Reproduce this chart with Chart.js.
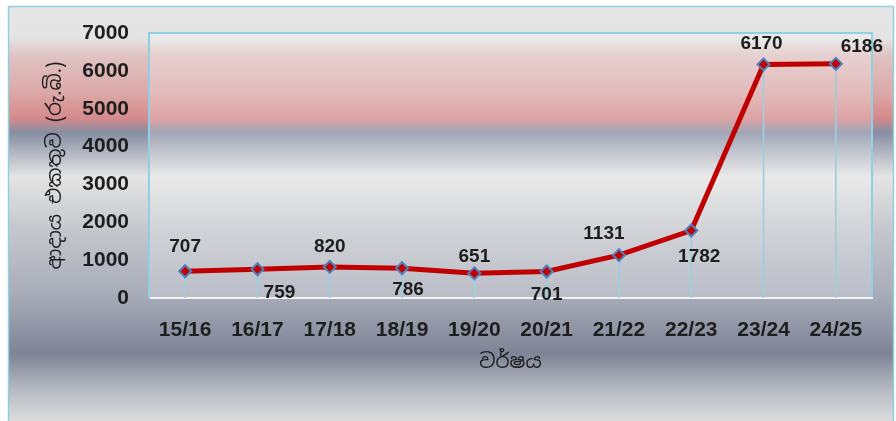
<!DOCTYPE html>
<html>
<head>
<meta charset="utf-8">
<script src="https://cdn.jsdelivr.net/npm/chart.js@4"></script>
<style>
  html, body { margin: 0; padding: 0; background: #fff; }
  #wrap { width: 896px; height: 421px; }
</style>
</head>
<body>
<div id="wrap"><canvas id="chart" width="896" height="421"></canvas></div>
<script>
var years = ['15/16', '16/17', '17/18', '18/19', '19/20', '20/21', '21/22', '22/23', '23/24', '24/25'];
var revenue = [707, 759, 820, 786, 651, 701, 1131, 1782, 6170, 6186];
var yTitle = 'ආදාය එකතුව (රු.බි.)';
var xTitle = 'වර්ෂය';

// where each value label sits relative to its point (dx, dy)
var labelOffsets = [[0, -24], [22, 23], [0, -20], [6, 22], [0, -17], [0, 23], [-15, -21], [8, 26], [-2, -21], [26, -17]];

var textColor = '#1e1e1e';
var fontFamily = '"Liberation Sans", Arial, "Noto Sans", sans-serif';

var backdrop = {
	id: 'backdrop',
	beforeDraw: function (chart) {
		var ctx = chart.ctx;
		var w = chart.width, h = chart.height;
		ctx.save();
		ctx.fillStyle = '#ffffff';
		ctx.fillRect(0, 0, w, h);
		var g = ctx.createLinearGradient(0, 0, 0, h);
		g.addColorStop(0.00, '#e6e6e6');
		g.addColorStop(0.09, '#e4e4e4');
		g.addColorStop(0.13, '#e0c4c4');
		g.addColorStop(0.22, '#dca8a8');
		g.addColorStop(0.28, '#d68a8a');
		g.addColorStop(0.30, '#aa8c98');
		g.addColorStop(0.315, '#868ea2');
		g.addColorStop(0.36, '#b0b4c0');
		g.addColorStop(0.42, '#e4e4e4');
		g.addColorStop(0.55, '#c4c6cc');
		g.addColorStop(0.70, '#a8acb8');
		g.addColorStop(0.84, '#7e8496');
		g.addColorStop(0.93, '#b8bcc4');
		g.addColorStop(1.00, '#dcdcdc');
		ctx.fillStyle = g;
		ctx.fillRect(8, 6, w - 10, h - 6);
		ctx.strokeStyle = '#8fd0e2';
		ctx.lineWidth = 1.5;
		ctx.strokeRect(8.5, 6.5, w - 11, h);
		var a = chart.chartArea;
		ctx.fillStyle = 'rgba(255,255,255,0.22)';
		ctx.fillRect(a.left, a.top, a.right - a.left, a.bottom - a.top);
		ctx.strokeStyle = '#8fd0e2';
		ctx.lineWidth = 2;
		ctx.beginPath();
		ctx.moveTo(a.left, a.bottom);
		ctx.lineTo(a.left, a.top);
		ctx.lineTo(a.right, a.top);
		ctx.lineTo(a.right, a.bottom);
		ctx.stroke();
		ctx.restore();
	}
};

var valueLabels = {
	id: 'valueLabels',
	afterDatasetsDraw: function (chart) {
		var ctx = chart.ctx;
		var meta = chart.getDatasetMeta(1);
		ctx.save();
		ctx.font = 'bold 19px ' + fontFamily;
		ctx.fillStyle = textColor;
		ctx.textAlign = 'center';
		ctx.textBaseline = 'middle';
		meta.data.forEach(function (pt, i) {
			var off = labelOffsets[i];
			ctx.fillText(String(revenue[i]), pt.x + off[0], pt.y + off[1]);
		});
		ctx.restore();
	}
};

var ctx = document.getElementById('chart').getContext('2d');
var chart = new Chart(ctx, {
	data: {
		labels: years,
		datasets: [{
			type: 'bar',
			label: 'drop',
			data: revenue,
			backgroundColor: '#9ccfe0',
			barThickness: 1,
			order: 2
		}, {
			type: 'line',
			label: 'revenue',
			data: revenue,
			borderColor: '#c00000',
			borderWidth: 5,
			tension: 0,
			pointStyle: 'rectRot',
			pointRadius: 6,
			pointBackgroundColor: '#c00000',
			pointBorderColor: '#4f81bd',
			pointBorderWidth: 2,
			order: 1
		}]
	},
	options: {
		responsive: false,
		animation: false,
		layout: { padding: { left: 43, top: 33, right: 24, bottom: 47 } },
		plugins: {
			legend: { display: false },
			tooltip: { enabled: false }
		},
		scales: {
			x: {
				offset: true,
				grid: { display: false, drawTicks: false },
				border: { color: '#f2f2f2', width: 2 },
				ticks: {
					color: textColor,
					padding: 20,
					maxRotation: 0,
					font: { family: fontFamily, size: 21, weight: 'bold' }
				},
				title: {
					display: true,
					text: xTitle,
					color: textColor,
					padding: 0,
					font: { family: '"Noto Sans Sinhala", "Noto Sans", sans-serif', size: 20 }
				},
				afterFit: function (s) { s.height = 76; }
			},
			y: {
				min: 0,
				max: 7000,
				grid: { display: false, drawTicks: false },
				border: { color: '#8fd0e2', width: 2 },
				ticks: {
					stepSize: 1000,
					color: textColor,
					padding: 20,
					callback: function (v) { return String(v); },
					font: { family: fontFamily, size: 21, weight: 'bold' }
				},
				title: {
					display: true,
					text: yTitle,
					color: textColor,
					padding: 0,
					font: { family: '"Noto Sans Sinhala", "Noto Sans", sans-serif', size: 20 }
				},
				afterFit: function (s) { s.width = 106; }
			}
		}
	},
	plugins: [backdrop, valueLabels]
});
</script>
</body>
</html>
